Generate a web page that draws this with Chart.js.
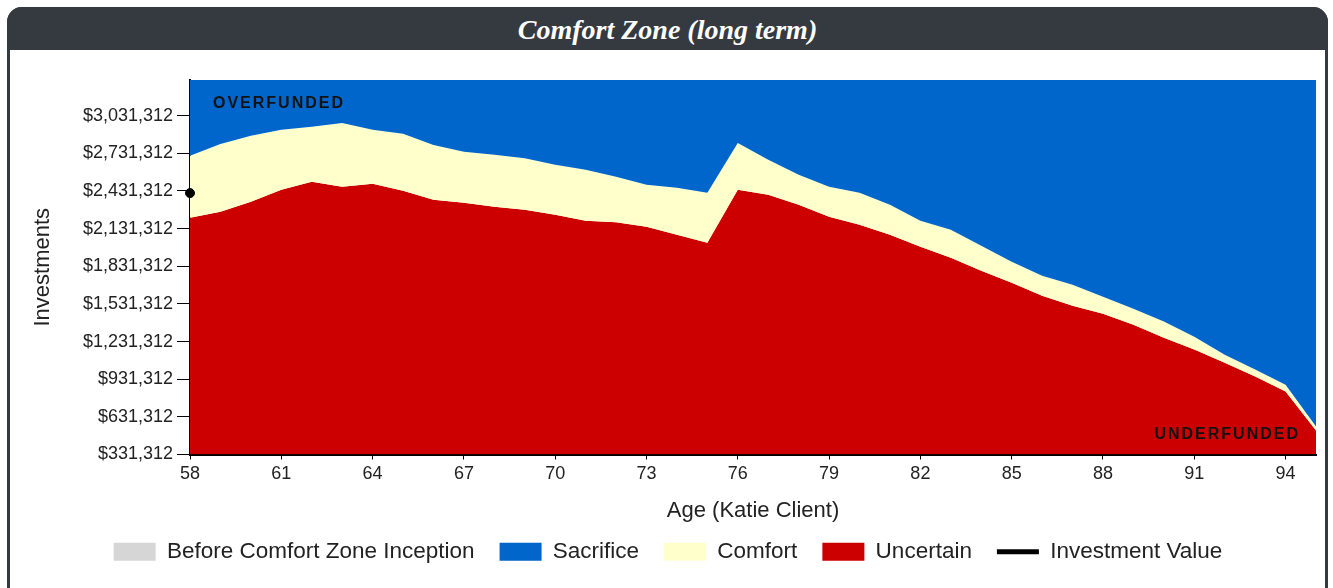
<!DOCTYPE html>
<html>
<head>
<meta charset="utf-8">
<title>Comfort Zone (long term)</title>
<script src="https://cdn.jsdelivr.net/npm/chart.js@4/dist/chart.umd.min.js"></script>
<style>
  html, body { margin: 0; padding: 0; background: #fff; }
  #wrap { position: relative; width: 1333px; height: 588px; overflow: hidden; }
  .card {
    position: absolute; left: 7px; top: 7px; width: 1321px; height: 640px;
    border: 3px solid #343a40; border-radius: 15px 15px 0 0;
    box-sizing: border-box; background: #fff;
  }
  .card-head {
    position: absolute; left: 7px; top: 7px; width: 1321px; height: 43px;
    background: #343a40; border-radius: 15px 15px 0 0; z-index: 2; overflow: hidden;
    color: #fff; text-align: center;
    font: italic bold 28px "Liberation Serif", serif;
    line-height: 46px;
  }
  #chart { position: absolute; left: 0; top: 0; z-index: 1; }
</style>
</head>
<body>
<div id="wrap">
  <div class="card"></div>
  <div class="card-head">Comfort Zone (long term)</div>
  <canvas id="chart" width="1333" height="588"></canvas>
</div>
<script>
// ages shown on the x axis (Katie Client)
const ages = [58, 59, 60, 61, 62, 63, 64, 65, 66, 67, 68, 69, 70, 71, 72, 73, 74, 75, 76,
  77, 78, 79, 80, 81, 82, 83, 84, 85, 86, 87, 88, 89, 90, 91, 92, 93, 94, 95];

// top of the red "Uncertain" band
const uncertainTop = [2217000, 2265000, 2345000, 2440000, 2504000, 2464000, 2488000, 2432000,
  2361000, 2337000, 2305000, 2281000, 2241000, 2193000, 2182000, 2146000, 2082000, 2018000,
  2440000, 2400000, 2321000, 2225000, 2162000, 2082000, 1987000, 1899000, 1796000, 1700000,
  1597000, 1517000, 1453000, 1366000, 1262000, 1167000, 1063000, 952000, 833000, 522000];

// top of the yellow "Comfort" band (above it is "Sacrifice")
const comfortTop = [2711000, 2806000, 2870000, 2918000, 2942000, 2973000, 2918000, 2886000,
  2798000, 2743000, 2719000, 2691000, 2639000, 2599000, 2544000, 2480000, 2456000, 2416000,
  2814000, 2679000, 2560000, 2464000, 2416000, 2321000, 2193000, 2122000, 1995000, 1867000,
  1756000, 1684000, 1589000, 1493000, 1390000, 1270000, 1127000, 1008000, 888000, 554000];

// investment value (only the starting point is plotted)
const investmentAges = [58];
const investmentValues = [2414000];

const xTickValues = [58, 61, 64, 67, 70, 73, 76, 79, 82, 85, 88, 91, 94];
const yTickValues = [331312, 631312, 931312, 1231312, 1531312, 1831312, 2131312, 2431312,
  2731312, 3031312];

const toPoints = (xs, ys) => xs.map((x, i) => ({ x: x, y: ys[i] }));

// OVERFUNDED / UNDERFUNDED labels inside the plot
const zoneLabels = {
  id: 'zoneLabels',
  afterDatasetsDraw(chart) {
    const { ctx, chartArea } = chart;
    ctx.save();
    ctx.font = 'bold 16px "Liberation Sans", Arial, sans-serif';
    ctx.fillStyle = '#111';
    ctx.letterSpacing = '2px';
    ctx.textBaseline = 'alphabetic';
    ctx.textAlign = 'left';
    ctx.fillText('OVERFUNDED', chartArea.left + 23, chartArea.top + 28);
    ctx.textAlign = 'right';
    ctx.fillText('UNDERFUNDED', chartArea.right - 16, chartArea.bottom - 16);
    ctx.restore();
  }
};

const axisFont = { family: '"Liberation Sans", Arial, sans-serif', size: 18 };
const titleFont = { family: '"Liberation Sans", Arial, sans-serif', size: 22 };

new Chart(document.getElementById('chart'), {
  type: 'line',
  data: {
    datasets: [
      {
        label: 'Before Comfort Zone Inception',
        data: [],
        backgroundColor: '#d6d6d6',
        borderColor: '#d6d6d6'
      },
      {
        label: 'Sacrifice',
        data: toPoints(ages, comfortTop),
        backgroundColor: '#0066cc',
        borderColor: '#0066cc',
        fill: 'end'
      },
      {
        label: 'Comfort',
        data: toPoints(ages, comfortTop),
        backgroundColor: '#ffffcc',
        borderColor: '#ffffcc',
        fill: { target: 3 }
      },
      {
        label: 'Uncertain',
        data: toPoints(ages, uncertainTop),
        backgroundColor: '#cc0000',
        borderColor: '#cc0000',
        fill: 'start'
      },
      {
        label: 'Investment Value',
        data: toPoints(investmentAges, investmentValues),
        backgroundColor: '#000',
        borderColor: '#000',
        borderWidth: 2,
        pointRadius: 4.5,
        pointBorderWidth: 1,
        pointBackgroundColor: '#000',
        clip: false,
        order: -1
      }
    ]
  },
  options: {
    responsive: false,
    animation: false,
    devicePixelRatio: 1,
    layout: { padding: { left: 20, right: 17, top: 80, bottom: 15 } },
    elements: {
      line: { tension: 0, borderWidth: 0 },
      point: { radius: 0 }
    },
    plugins: {
      tooltip: { enabled: false },
      legend: {
        position: 'bottom',
        labels: {
          usePointStyle: true,
          pointStyleWidth: 42,
          boxHeight: 18,
          padding: 25,
          color: '#222',
          font: { family: '"Liberation Sans", Arial, sans-serif', size: 22.5 },
          generateLabels: chart => chart.data.datasets.map((ds, i) => ({
            text: ds.label,
            fillStyle: ds.backgroundColor,
            strokeStyle: ds.borderColor,
            lineWidth: i === 4 ? 5 : 0,
            pointStyle: i === 4 ? 'line' : 'rect',
            fontColor: '#222',
            hidden: false,
            datasetIndex: i
          }))
        }
      }
    },
    scales: {
      x: {
        type: 'linear',
        min: 58,
        max: 95,
        afterBuildTicks: s => { s.ticks = xTickValues.map(v => ({ value: v })); },
        afterFit: s => { s.height = 61; },
        ticks: { color: '#222', font: axisFont, padding: 4, maxRotation: 0, autoSkip: false },
        grid: { drawOnChartArea: false, tickLength: 5, color: '#000' },
        border: { color: '#000', width: 2 },
        title: {
          display: true,
          text: 'Age (Katie Client)',
          color: '#222',
          font: titleFont,
          padding: { top: 0, bottom: -9 }
        }
      },
      y: {
        min: 331312,
        max: 3315000,
        afterBuildTicks: s => { s.ticks = yTickValues.map(v => ({ value: v })); },
        afterFit: s => { s.width = 170; },
        ticks: {
          color: '#222',
          font: axisFont,
          padding: 4,
          callback: v => '$' + v.toLocaleString('en-US')
        },
        grid: { drawOnChartArea: false, tickLength: 13, color: '#000' },
        border: { color: '#000', width: 2 },
        title: {
          display: true,
          text: 'Investments',
          color: '#222',
          font: titleFont,
          padding: { top: 10, bottom: 0 }
        }
      }
    }
  },
  plugins: [zoneLabels]
});
</script>
</body>
</html>
